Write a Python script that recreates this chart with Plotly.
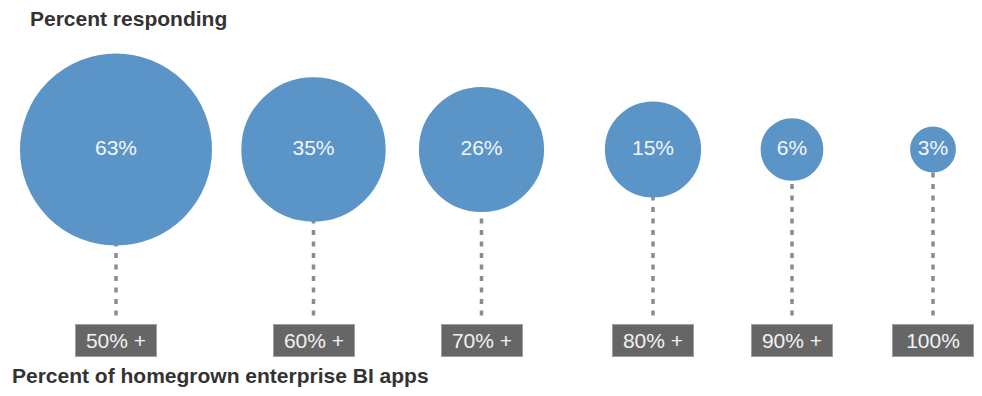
import plotly.graph_objects as go

# ---- data ----
categories = ["50% +", "60% +", "70% +", "80% +", "90% +", "100%"]
responding = [63, 35, 26, 15, 6, 3]
value_labels = ["63%", "35%", "26%", "15%", "6%", "3%"]
top_title = "Percent responding"
bottom_title = "Percent of homegrown enterprise BI apps"

# ---- layout (pixel-unit axes) ----
W, H = 982, 396
slot_x = [116, 313.5, 481.5, 653, 792, 933]   # horizontal slot centres
circle_y = 149.5
stem_end_y = 317
box_y = 340

blue = "#5b94c7"
max_r = 93.5
sizeref = max(responding) / (2 * max_r ** 2)

font_family = "Liberation Sans, Arial, Helvetica, sans-serif"

fig = go.Figure()

# dotted stems
sx, sy = [], []
for x in slot_x:
    sx += [x, x, None]
    sy += [circle_y, stem_end_y, None]
fig.add_trace(go.Scatter(
    x=sx, y=sy, mode="lines",
    line=dict(color="#8c8c8c", width=3.5, dash="5px,6.5px"),
    hoverinfo="skip", showlegend=False))

# bubbles
fig.add_trace(go.Scatter(
    x=slot_x, y=[circle_y] * len(slot_x),
    mode="markers+text",
    marker=dict(size=responding, sizemode="area", sizeref=sizeref,
                color=blue, opacity=1, line=dict(color=blue, width=5)),
    text=value_labels, textposition="middle center",
    textfont=dict(family=font_family, size=21, color="#f3f6fa"),
    hovertemplate="%{text}<extra></extra>", showlegend=False))

annotations = []
for x, c in zip(slot_x, categories):
    annotations.append(dict(
        x=x, y=box_y, xref="x", yref="y", text=c, showarrow=False,
        xanchor="center", yanchor="middle",
        width=80, height=31, borderpad=0,
        bgcolor="#666666", bordercolor="#a0a0a0", borderwidth=1,
        font=dict(family=font_family, size=21, color="#f2f2f2")))

annotations.append(dict(
    x=28, y=18, xref="x", yref="y", text="<b>%s</b>" % top_title,
    showarrow=False, xanchor="left", yanchor="middle",
    font=dict(family=font_family, size=21, color="#333333")))
annotations.append(dict(
    x=10, y=375, xref="x", yref="y", text="<b>%s</b>" % bottom_title,
    showarrow=False, xanchor="left", yanchor="middle",
    font=dict(family=font_family, size=21, color="#333333")))

fig.update_layout(
    width=W, height=H,
    margin=dict(l=0, r=0, t=0, b=0),
    paper_bgcolor="white", plot_bgcolor="white",
    xaxis=dict(range=[0, W], visible=False, fixedrange=True),
    yaxis=dict(range=[H, 0], visible=False, fixedrange=True),
    annotations=annotations,
    showlegend=False,
)

fig.write_html("out.html")
